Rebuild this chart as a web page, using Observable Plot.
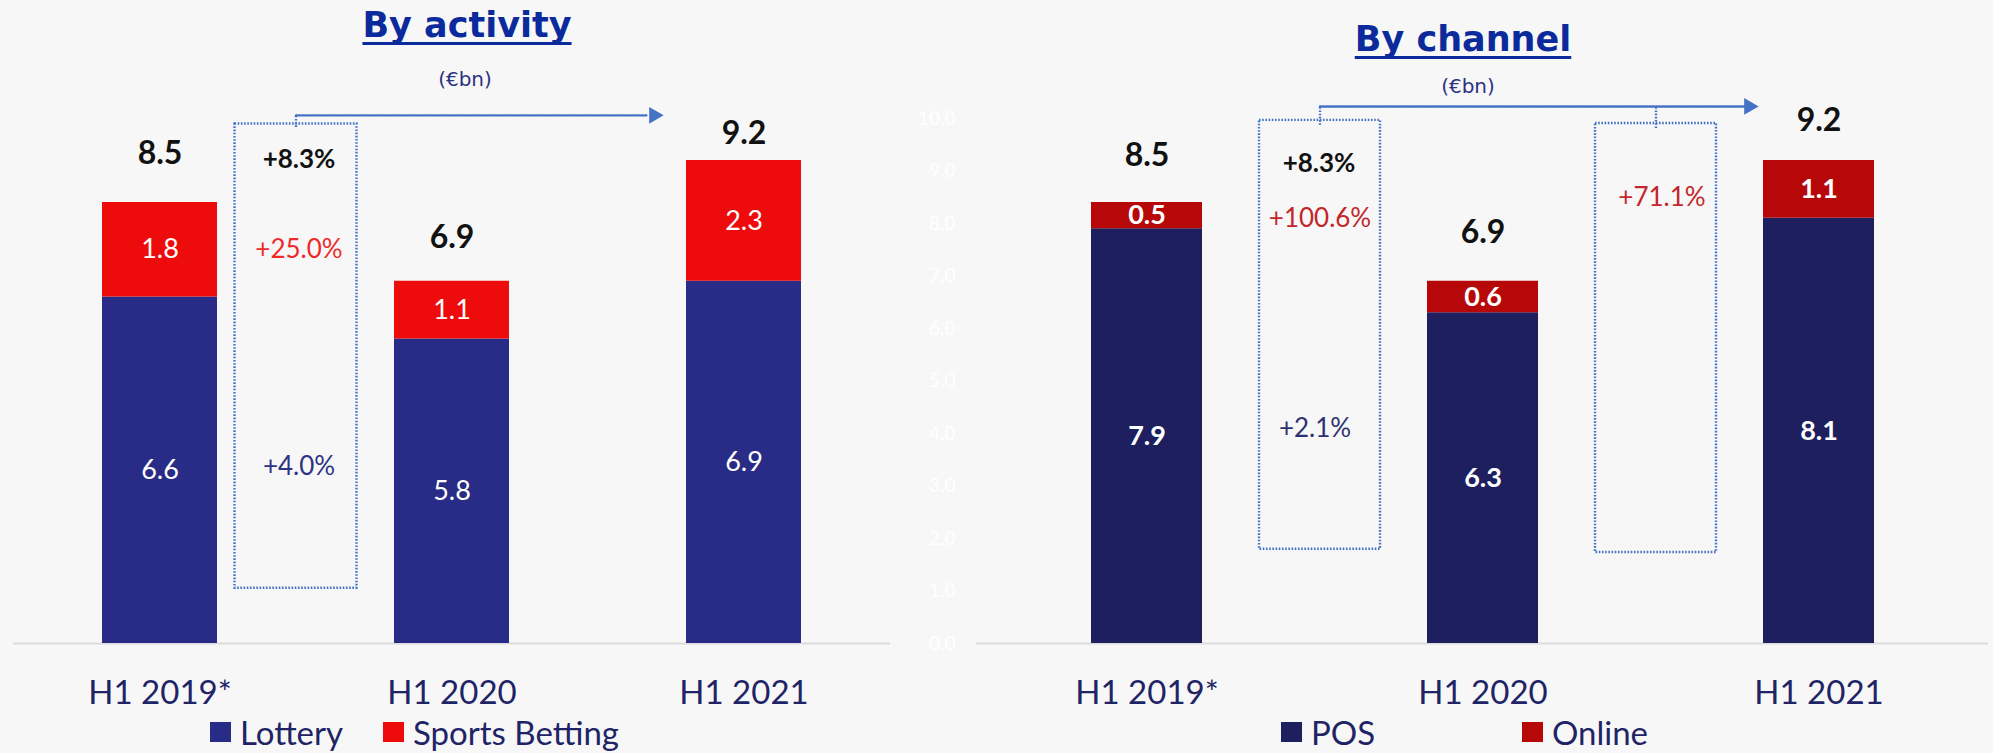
<!DOCTYPE html>
<html>
<head>
<meta charset="utf-8">
<script src="https://cdn.jsdelivr.net/npm/d3@7"></script>
<script src="https://cdn.jsdelivr.net/npm/@observablehq/plot@0.6"></script>
<style>
  html, body { margin: 0; padding: 0; background: #f7f7f7; width: 1993px; height: 753px; overflow: hidden; }
  .panel { position: absolute; top: 0; height: 753px; }
  .title { position: absolute; font-family: "DejaVu Sans", sans-serif; font-weight: bold; font-size: 35px; line-height: 35px;
           color: #0b2a9c; text-decoration: underline; text-decoration-thickness: 3px; text-underline-offset: 5px;
           text-decoration-skip-ink: none; white-space: nowrap; transform: translateX(-50%); }
  .sub { position: absolute; font-family: "DejaVu Sans", sans-serif; font-size: 20px; line-height: 20px; color: #2e3282;
         white-space: nowrap; transform: translateX(-50%); }
  .chart { position: absolute; top: 95px; left: 0; }
  .leg { position: absolute; display: flex; align-items: center; height: 20px; font-family: Lato, sans-serif;
         font-size: 33px; line-height: 20px; color: #1f2466; white-space: nowrap; }
  .leg .sw { width: 21px; height: 20px; margin-right: 9px; }
</style>
</head>
<body>
<div id="left" class="panel" style="left:0;width:900px"></div>
<div id="right" class="panel" style="left:900px;width:1093px"></div>
<script>
// ---------- data ----------
const periods = ["H1 2019*", "H1 2020", "H1 2021"];
const gaps = ["gap1", "gap2"];
const slots = [periods[0], gaps[0], periods[1], gaps[1], periods[2]];

// By activity (€bn)
const activitySeries = ["Lottery", "Sports Betting"];
const lottery = [6.6, 5.8, 6.9];
const sportsBetting = [1.8, 1.1, 2.3];
const activityTotals = [8.5, 6.9, 9.2];
const activityGrowth = ["+8.3%", "+25.0%", "+4.0%"];     // total, sports betting, lottery

// By channel (€bn)
const channelSeries = ["POS", "Online"];
const pos = [7.9, 6.3, 8.1];
const online = [0.5, 0.6, 1.1];
const channelTotals = [8.5, 6.9, 9.2];
const channelGrowth = ["+8.3%", "+100.6%", "+2.1%"];     // total, online, POS
const onlineGrowthVs2020 = ["+71.1%"];

const yTicks = [0, 1, 2, 3, 4, 5, 6, 7, 8, 9, 10];

// ---------- styles ----------
const activityColors = ["#292c86", "#ee0b0b"];
const channelColors = ["#1e1f5f", "#b60808"];
const annotBlue = "#4472c4";
const dotted = "1.6,1.6";
const dotW = 2.4;

function stackRows(seriesNames, seriesValues) {
  const rows = [];
  periods.forEach((p, i) => {
    let base = 0;
    seriesNames.forEach((s, j) => {
      const v = seriesValues[j][i];
      rows.push({period: p, series: s, value: v, y1: base, y2: base + v, mid: base + v / 2});
      base += v;
    });
  });
  return rows;
}

function buildChart(o) {
  const rows = stackRows(o.series, o.values);
  const first = rows.filter(r => r.period === periods[0]);
  const last = rows.filter(r => r.period === periods[2]);
  const totalRows = periods.map((p, i) => ({period: p, total: o.totals[i]}));
  const marks = [
    Plot.ruleY([0], {stroke: "#dcdcdc", strokeWidth: 2}),
    Plot.barY(rows, {x: "period", y1: "y1", y2: "y2", fill: "series"}),
    Plot.text(rows, {x: "period", y: "mid", text: d => d.value.toFixed(1), fill: "white",
                     fontSize: o.innerSize, fontWeight: o.innerWeight}),
    totalRows.map((d, i) => Plot.text([d], {x: "period", y: "total", text: d => d.total.toFixed(1),
                     dy: o.totalDy[i], fill: "#111", fontSize: 32, fontWeight: "bold"})),
    Plot.axisX({ticks: periods, tickSize: 0, tickPadding: 37, fontSize: 33, color: "#1f2466"}),
    // dotted growth boxes
    Plot.barY(o.boxes, {x: "slot", y1: "bottom", y2: "top", fill: "none", stroke: annotBlue,
                        strokeWidth: dotW, strokeDasharray: dotted, inset: o.boxInset, dx: o.boxDx}),
    Plot.ruleX(o.boxes, {x: "slot", y1: "top", y2: () => o.arrowY, stroke: annotBlue, strokeWidth: dotW,
                         strokeDasharray: dotted, dx: o.boxDx}),
    Plot.arrow([{from: gaps[0], to: periods[2], y: o.arrowY}], {x1: "from", x2: "to", y1: "y", y2: "y",
                stroke: annotBlue, strokeWidth: dotW, strokeDasharray: dotted, headLength: 0,
                insetEnd: o.arrowInsetEnd, dx: o.boxDx}),
    Plot.dot([{to: periods[2], y: o.arrowY}], {x: "to", y: "y", symbol: "triangle", rotate: 90, r: 6.2,
              fill: annotBlue, stroke: "none", dx: o.headDx}),
    o.growth(first, last, totalRows)
  ];
  if (o.yAxis) marks.unshift(Plot.axisY({ticks: yTicks, tickSize: 0, tickPadding: 21, tickFormat: d3.format(".1f"),
                                         fontSize: 19, color: "#ffffff"}));
  return Plot.plot({
    width: o.width, height: 615, marginTop: 23, marginBottom: 67,
    marginLeft: o.marginLeft, marginRight: o.marginRight,
    style: {background: "transparent", fontFamily: "Lato, sans-serif", overflow: "visible"},
    x: {domain: slots, paddingInner: o.paddingInner, paddingOuter: o.paddingOuter},
    y: {domain: [0, 10], axis: o.yAxis ? undefined : null},
    color: {domain: o.series, range: o.colors},
    marks
  });
}

function addPanel(el, o) {
  const t = document.createElement("div");
  t.className = "title"; t.textContent = o.title;
  t.style.left = o.titleX + "px"; t.style.top = o.titleTop + "px";
  el.appendChild(t);
  const s = document.createElement("div");
  s.className = "sub"; s.textContent = "(€bn)";
  s.style.left = o.subX + "px"; s.style.top = o.subTop + "px";
  el.appendChild(s);
  const c = document.createElement("div");
  c.className = "chart";
  c.appendChild(buildChart(o));
  el.appendChild(c);
  o.series.forEach((name, i) => {
    const item = document.createElement("div");
    item.className = "leg";
    item.style.left = o.legendX[i] + "px"; item.style.top = o.legendTop + "px";
    const sw = document.createElement("span");
    sw.className = "sw"; sw.style.background = o.colors[i];
    item.appendChild(sw);
    item.appendChild(document.createTextNode(name));
    el.appendChild(item);
  });
}

addPanel(document.getElementById("left"), {
  title: "By activity", titleX: 467, titleTop: 8, subX: 465, subTop: 69,
  series: activitySeries, values: [lottery, sportsBetting], totals: activityTotals, colors: activityColors,
  width: 900, marginLeft: 13, marginRight: 10, paddingInner: 0.21, paddingOuter: 0.593,
  innerSize: 27, innerWeight: "normal", totalDy: [-44, -44, -27],
  boxes: [{slot: gaps[0], top: 9.83, bottom: 1.12}], boxInset: -3.5, boxDx: -10,
  arrowY: 10.06, arrowInsetEnd: 86, headDx: -90, yAxis: false,
  growth: (first, last, totals) => [
    Plot.text([{slot: gaps[0], y: totals[0].total}], {x: "slot", y: "y", text: () => activityGrowth[0], dy: -38, dx: -7,
               fill: "#111", fontSize: 26, fontWeight: "bold"}),
    Plot.text([{slot: gaps[0], y: first[1].mid}], {x: "slot", y: "y", text: () => activityGrowth[1], dx: -7,
               fill: "#ee2a2a", fontSize: 26}),
    Plot.text([{slot: gaps[0], y: first[0].mid}], {x: "slot", y: "y", text: () => activityGrowth[2], dx: -7, dy: -4,
               fill: "#2e3484", fontSize: 26})
  ],
  legendX: [210, 383], legendTop: 722
});

addPanel(document.getElementById("right"), {
  title: "By channel", titleX: 563, titleTop: 22, subX: 568, subTop: 76,
  series: channelSeries, values: [pos, online], totals: channelTotals, colors: channelColors,
  width: 1093, marginLeft: 76, marginRight: 5, paddingInner: 0.341, paddingOuter: 0.674,
  innerSize: 27, innerWeight: "bold", totalDy: [-42, -49, -40],
  boxes: [{slot: gaps[0], top: 9.87, bottom: 1.89}, {slot: gaps[1], top: 9.81, bottom: 1.83}], boxInset: -5, boxDx: 5,
  arrowY: 10.23, arrowInsetEnd: 79, headDx: -70, yAxis: true,
  growth: (first, last, totals) => [
    Plot.text([{slot: gaps[0], y: totals[0].total}], {x: "slot", y: "y", text: () => channelGrowth[0], dy: -34, dx: 4,
               fill: "#111", fontSize: 26, fontWeight: "bold"}),
    Plot.text([{slot: gaps[0], y: first[1].mid}], {x: "slot", y: "y", text: () => channelGrowth[1], dy: 3, dx: 5,
               fill: "#c3262b", fontSize: 26}),
    Plot.text([{slot: gaps[0], y: first[0].mid}], {x: "slot", y: "y", text: () => channelGrowth[2], dy: -7, dx: 0,
               fill: "#2e3170", fontSize: 26}),
    Plot.text([{slot: gaps[1], y: last[1].mid}], {x: "slot", y: "y", text: () => onlineGrowthVs2020[0], dy: 8, dx: 11,
               fill: "#c3262b", fontSize: 26})
  ],
  legendX: [381, 622], legendTop: 722
});
</script>
</body>
</html>
